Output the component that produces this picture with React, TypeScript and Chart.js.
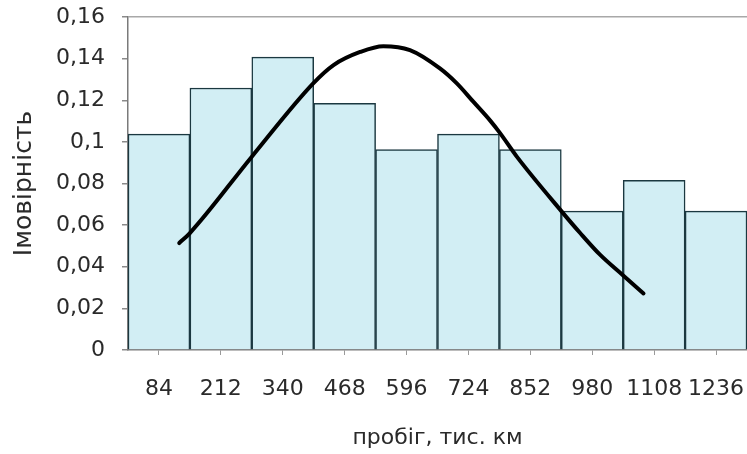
import React, { useEffect, useRef } from "react";
import { Chart, registerables } from "chart.js";

Chart.register(...registerables);

const categories = ["84", "212", "340", "468", "596", "724", "852", "980", "1108", "1236"];
const probabilities = [0.1037, 0.1259, 0.1407, 0.1185, 0.0963, 0.1037, 0.0963, 0.0667, 0.0815, 0.0667];
const curveKm = [126, 148, 276, 403, 445, 500, 548, 603, 665, 700, 734, 769, 789, 824, 917, 955, 996, 1044, 1086];
const curveValues = [0.0514, 0.0562, 0.0929, 0.1281, 0.1369, 0.1432, 0.146, 0.1441, 0.1353, 0.1281, 0.1193, 0.1102, 0.1043, 0.0929, 0.0665, 0.0562, 0.0458, 0.0358, 0.0272];
const yTicks = [0, 0.02, 0.04, 0.06, 0.08, 0.1, 0.12, 0.14, 0.16];
const yTickLabels = ["0", "0,02", "0,04", "0,06", "0,08", "0,1", "0,12", "0,14", "0,16"];
const xRangeKm = [20, 1300];

const FONT = "'DejaVu Sans', 'Liberation Sans', sans-serif";
const TEXT = "#2a2a2a";

export default function App() {
  const ref = useRef<HTMLCanvasElement | null>(null);

  useEffect(() => {
    const canvas = ref.current;
    if (!canvas) return;
    const chart = new Chart(canvas, {
      type: "bar",
      data: {
        labels: categories,
        datasets: [
          {
            type: "line",
            data: curveKm.map((x, i) => ({ x, y: curveValues[i] })),
            xAxisID: "x2",
            yAxisID: "y",
            borderColor: "#000000",
            borderWidth: 4,
            pointRadius: 0,
            cubicInterpolationMode: "monotone",
            borderCapStyle: "round",
            borderJoinStyle: "round",
            fill: false,
            order: 1,
          } as any,
          {
            type: "bar",
            data: probabilities,
            xAxisID: "x",
            yAxisID: "y",
            backgroundColor: "#d2eef4",
            borderColor: "#1b3840",
            borderWidth: 1.5,
            barPercentage: 1,
            categoryPercentage: 1,
            grouped: false,
            order: 2,
          } as any,
        ],
      },
      options: {
        responsive: false,
        animation: false,
        devicePixelRatio: 1,
        layout: { padding: { top: 17, right: 0, left: 0, bottom: 0 } },
        plugins: {
          legend: { display: false },
          tooltip: { enabled: false },
        },
        scales: {
          x: {
            type: "category",
            offset: true,
            grid: {
              offset: false,
              color: "rgba(0,0,0,0)",
              tickColor: "#9a9a9a",
              tickLength: 5,
              drawOnChartArea: false,
            },
            border: { display: true, color: "#7a7a7a", width: 1.5 },
            ticks: {
              color: TEXT,
              font: { family: FONT, size: 22 },
              padding: 21,
              maxRotation: 0,
              autoSkip: false,
            },
            title: {
              display: true,
              text: "пробіг, тис. км",
              color: TEXT,
              font: { family: FONT, size: 22 },
              padding: { top: 0, bottom: 3 },
            },
            afterFit: (s: any) => {
              s.height = 104;
              s.paddingLeft = 0;
              s.paddingRight = 0;
            },
          },
          x2: {
            type: "linear",
            display: false,
            offset: false,
            min: xRangeKm[0],
            max: xRangeKm[1],
          },
          y: {
            type: "linear",
            min: 0,
            max: 0.16,
            afterBuildTicks: (s: any) => {
              s.ticks = yTicks.map((v) => ({ value: v }));
            },
            grid: {
              color: (ctx: any) => (ctx.tick && Math.abs(ctx.tick.value - 0.16) < 1e-9 ? "#a8a8a8" : "rgba(0,0,0,0)"),
              tickColor: "#8a8a8a",
              tickLength: 6,
              lineWidth: 1.5,
            },
            border: { display: true, color: "#7a7a7a", width: 1.5 },
            ticks: {
              color: TEXT,
              font: { family: FONT, size: 22 },
              padding: 17,
              callback: (_v: any, i: number) => yTickLabels[i],
            },
            title: {
              display: true,
              text: "Імовірність",
              color: TEXT,
              font: { family: FONT, size: 25 },
              padding: { top: 9, bottom: 0 },
            },
            afterFit: (s: any) => {
              s.width = 128;
              s.paddingTop = 0;
              s.paddingBottom = 0;
            },
          },
        },
      },
    });
    return () => chart.destroy();
  }, []);

  return (
    <div style={{ position: "absolute", left: 0, top: 0, width: 747, height: 454, background: "#ffffff" }}>
      <canvas ref={ref} width={747} height={454} style={{ display: "block", width: 747, height: 454 }} />
    </div>
  );
}
